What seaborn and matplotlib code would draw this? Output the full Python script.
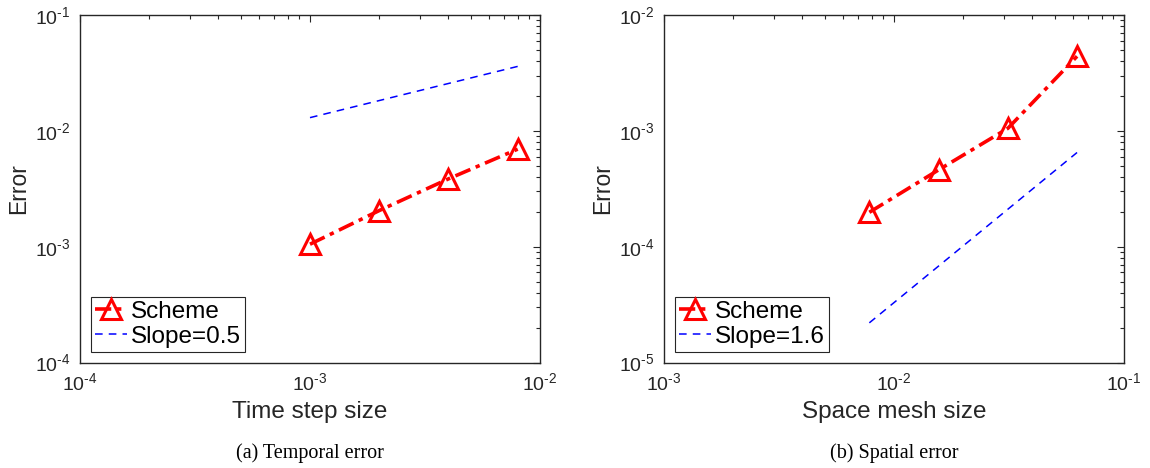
import numpy as np
import pandas as pd
import matplotlib
matplotlib.use("Agg")
import matplotlib.pyplot as plt
import seaborn as sns
from matplotlib.ticker import LogLocator, NullFormatter, FuncFormatter

sns.set_theme(style="white")
plt.rcParams['font.family'] = ['Liberation Sans', 'DejaVu Sans']
plt.rcParams['mathtext.fontset'] = 'custom'
plt.rcParams['mathtext.rm'] = 'Liberation Sans'
plt.rcParams['mathtext.it'] = 'Liberation Sans:italic'
plt.rcParams['mathtext.bf'] = 'Liberation Sans:bold'
plt.rcParams['axes.unicode_minus'] = False

# ---- data ----
time_steps = [1e-3, 2e-3, 4e-3, 8e-3]
temporal_error = [1.05e-3, 2.05e-3, 3.85e-3, 6.95e-3]
temporal_slope_x = [1e-3, 8e-3]
temporal_slope_y = [1.3e-2, 3.6e-2]

mesh_sizes = [1/128, 1/64, 1/32, 1/16]
spatial_error = [1.98e-4, 4.6e-4, 1.05e-3, 4.4e-3]
spatial_slope_x = [1/128, 1/16]
spatial_slope_y = [2.2e-5, 6.5e-4]

panels = [
    dict(x=time_steps, y=temporal_error, sx=temporal_slope_x, sy=temporal_slope_y,
         slope_label="Slope=0.5", xlabel="Time step size", xlim=(1e-4, 1e-2),
         ylim=(1e-4, 1e-1), caption="(a) Temporal error"),
    dict(x=mesh_sizes, y=spatial_error, sx=spatial_slope_x, sy=spatial_slope_y,
         slope_label="Slope=1.6", xlabel="Space mesh size", xlim=(1e-3, 1e-1),
         ylim=(1e-5, 1e-2), caption="(b) Spatial error"),
]


def pow10(v, pos):
    e = int(round(np.log10(v)))
    if e < 0:
        return r'$\mathdefault{10^{\text{-%d}}}$' % (-e)
    return r'$\mathdefault{10^{%d}}$' % e


W, H = 1150, 468
fig = plt.figure(figsize=(W / 100, H / 100), dpi=100)
ax_rects = [(80, 15, 540, 362.5), (664, 15, 1124, 362.5)]
axcol = '#262626'

for p, (l, t, r, b) in zip(panels, ax_rects):
    ax = fig.add_axes([l / W, 1 - b / H, (r - l) / W, (b - t) / H])
    df = pd.DataFrame({'x': p['x'], 'y': p['y']})
    sdf = pd.DataFrame({'x': p['sx'], 'y': p['sy']})
    sns.lineplot(data=df, x='x', y='y', ax=ax, color='red', linestyle=(0, (4.5, 1.6, 1.2, 1.6)),
                 linewidth=2.6, marker='^', markersize=15, markerfacecolor='none',
                 markeredgecolor='red', markeredgewidth=2.2, label='Scheme', zorder=3)
    sns.lineplot(data=sdf, x='x', y='y', ax=ax, color='blue', linestyle=(0, (5, 4)),
                 linewidth=1.1, label=p['slope_label'])
    ax.set_xscale('log')
    ax.set_yscale('log')
    ax.set_xlim(*p['xlim'])
    ax.set_ylim(*p['ylim'])
    ax.xaxis.set_major_locator(LogLocator(base=10, numticks=10))
    ax.yaxis.set_major_locator(LogLocator(base=10, numticks=10))
    ax.xaxis.set_minor_locator(LogLocator(base=10, subs=np.arange(2, 10), numticks=20))
    ax.yaxis.set_minor_locator(LogLocator(base=10, subs=np.arange(2, 10), numticks=20))
    ax.xaxis.set_major_formatter(FuncFormatter(pow10))
    ax.yaxis.set_major_formatter(FuncFormatter(pow10))
    ax.xaxis.set_minor_formatter(NullFormatter())
    ax.yaxis.set_minor_formatter(NullFormatter())
    ax.tick_params(which='both', direction='in', top=True, right=True, colors=axcol,
                   labelcolor=axcol, labelsize=14, width=0.8)
    ax.tick_params(which='major', length=5, pad=7)
    ax.tick_params(which='minor', length=3)
    for s in ax.spines.values():
        s.set_color(axcol)
        s.set_linewidth(1.0)
    ax.set_xlabel(p['xlabel'], fontsize=17.5, color=axcol, labelpad=5)
    ax.set_ylabel('Error', fontsize=16.5, color=axcol)
    ax.yaxis.set_label_coords((19 - l) / (r - l) + (l - l), 0.5)
    ax.grid(False)
    leg = ax.legend(loc='lower left', fontsize=17.5, frameon=True, fancybox=False,
                    framealpha=1, edgecolor=axcol, borderpad=0.15, handlelength=1.35,
                    handletextpad=0.15, labelspacing=0.12, borderaxespad=0.45)
    leg.get_frame().set_linewidth(0.8)
    for txt in leg.get_texts():
        txt.set_color('black')
    cx = (l + r) / 2 / W
    fig.text(cx, 1 - 453 / H, p['caption'], ha='center', va='center', fontsize=14.5,
             family=['Liberation Serif', 'DejaVu Serif'], color='black')

# y-label positions: centre of text near x=19 px (left) and x=603 px (right)
for ax, xpix, (l, t, r, b) in zip(fig.axes, [19, 603], ax_rects):
    ax.yaxis.set_label_coords((xpix - l) / (r - l), 0.5)
    ax.yaxis.label.set_va('center')

fig.savefig('out.png', dpi=100, facecolor='white')
